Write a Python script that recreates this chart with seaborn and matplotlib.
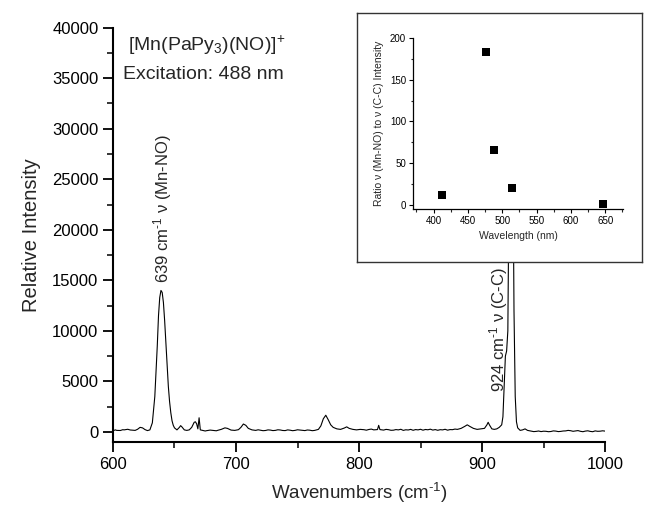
import numpy as np
import pandas as pd
import matplotlib
matplotlib.use("Agg")
import matplotlib.pyplot as plt
from matplotlib.ticker import MultipleLocator
import seaborn as sns

# ---- spectrum ----
wavenumber = [600, 602, 603, 606, 608, 609, 612, 614, 615, 618, 620, 622, 624, 626, 628, 630, 632,
              634, 636, 637, 638, 639, 640, 641, 642, 643, 644, 645, 646, 647, 648,
              649, 650, 652, 654, 655, 656, 658, 660, 662, 664, 666, 667, 668, 669,
              670, 671, 673, 675, 676, 678, 679, 682, 684, 685, 688, 691, 693, 696, 699, 702, 704,
              706, 708, 710, 713, 716, 718, 720, 722, 724, 726, 728, 730, 732, 734, 736, 738, 740,
              742, 744, 746, 748, 750, 752, 754, 756, 758, 760, 762, 764, 767, 769, 771, 773, 775,
              777, 779, 782, 785, 788, 790, 792, 795, 798, 801, 804, 806, 808, 810, 812, 815, 816,
              817, 820, 822, 824, 826, 828, 830, 832, 834, 836, 838, 840, 842, 844, 846, 848, 850,
              852, 854, 856, 858, 860, 862, 864, 866, 868, 870, 872, 874, 876, 878, 880, 883, 886,
              888, 890, 893, 896, 899, 902, 904, 905, 906, 908, 910, 912, 914, 916,
              917, 918, 919, 920, 921, 922, 923, 924, 925, 926, 927, 928, 929, 931,
              933, 935, 937, 940, 942, 944, 946, 948, 950, 952, 954, 956, 958, 960, 962, 964, 966,
              968, 970, 972, 974, 976, 978, 980, 982, 984, 986, 988, 990, 992, 994, 996, 998, 1000]
intensity = [120, 200, 150, 140, 220, 200, 260, 190, 180, 150, 260, 450, 400, 230, 130, 200, 900,
             3500, 8500, 11500, 13300, 14000, 13800, 12800, 11000, 8800, 6500, 4500, 3000, 1900, 1100,
             650, 400, 200, 450, 620, 500, 200, 150, 200, 450, 950, 1000, 800, 300,
             1400, 200, 150, 90, 120, 160, 180, 140, 110, 150, 250, 400, 350, 180, 150, 220, 450,
             780, 650, 350, 200, 150, 210, 170, 120, 140, 200, 180, 130, 150, 210, 190, 140, 130,
             200, 170, 120, 150, 210, 180, 140, 130, 190, 170, 120, 150, 250, 600, 1300, 1650, 1200,
             700, 450, 300, 250, 380, 500, 350, 250, 200, 250, 220, 170, 240, 280, 200, 230, 650,
             230, 180, 250, 220, 160, 170, 230, 200, 260, 150, 210, 190, 250, 160, 230, 200, 260,
             170, 240, 210, 270, 180, 230, 160, 220, 200, 260, 170, 230, 220, 280, 250, 350, 550,
             700, 550, 350, 250, 300, 350, 700, 950, 700, 300, 250, 300, 450, 700,
             1500, 4500, 7500, 8000, 10000, 25000, 37000, 38000, 30000, 12000, 3500, 1000, 400, 150,
             200, 300, 150, 80, 30, 50, 90, 30, 70, 60, 20, 40, 100, 80, 30, 50, 90,
             100, 150, 120, 60, 90, 130, 60, 20, 80, 110, 50, 20, 100, 60, 70, 110, 80]

# ---- inset data ----
wavelength_nm = [413, 476, 488, 514, 647]
ratio = [12, 183, 66, 20, 1]

sns.set_style("ticks")
plt.rcParams['font.family'] = ['Liberation Sans', 'DejaVu Sans']
plt.rcParams['mathtext.fontset'] = 'custom'
plt.rcParams['mathtext.rm'] = 'Liberation Sans'
plt.rcParams['mathtext.it'] = 'Liberation Sans:italic'
plt.rcParams['axes.unicode_minus'] = False

fig = plt.figure(figsize=(6.55, 5.08), dpi=100)
ax = fig.add_axes([0.1725, 0.1299, 0.7512, 0.8156])

df = pd.DataFrame({"wn": wavenumber, "I": intensity})
sns.lineplot(data=df, x="wn", y="I", ax=ax, color="black", linewidth=0.8)

ax.set_xlim(600, 1000)
ax.set_ylim(-1000, 40000)
ax.xaxis.set_major_locator(MultipleLocator(100))
ax.xaxis.set_minor_locator(MultipleLocator(50))
ax.yaxis.set_major_locator(MultipleLocator(5000))
ax.yaxis.set_minor_locator(MultipleLocator(2500))
ax.tick_params(which='major', direction='out', length=7, width=1.3, labelsize=12, colors='black')
ax.tick_params(which='minor', direction='out', length=4, width=1.3)
for s in ['top', 'right']:
    ax.spines[s].set_visible(False)
for s in ['left', 'bottom']:
    ax.spines[s].set_linewidth(1.5)
    ax.spines[s].set_color('black')
ax.set_xlabel(r"Wavenumbers (cm$^{\text{-}1}$)", fontsize=13.5, labelpad=7)
ax.set_ylabel("Relative Intensity", fontsize=14.5, labelpad=8)

ax.text(0.03, 0.958, "[Mn(PaPy$_3$)(NO)]$^{+}$", transform=ax.transAxes, fontsize=14, va='center', ha='left')
ax.text(0.02, 0.888, "Excitation: 488 nm", transform=ax.transAxes, fontsize=14, va='center', ha='left')
ax.text(640, 14700, r"639 cm$^{\text{-}1}$ ν (Mn-NO)", rotation=90, fontsize=12, ha='center', va='bottom')
ax.text(913.5, 3900, r"924 cm$^{\text{-}1}$ ν (C-C)", rotation=90, fontsize=12, ha='center', va='bottom')

# inset frame
box = fig.add_axes([0.545, 0.484, 0.435, 0.490])
box.set_xticks([]); box.set_yticks([])
box.set_facecolor('white')
for s in box.spines.values():
    s.set_visible(True)
    s.set_linewidth(1.0)
    s.set_color('#333333')

ins = fig.add_axes([0.6305, 0.5886, 0.3206, 0.3366])
ins.set_facecolor('white')
dfi = pd.DataFrame({"wl": wavelength_nm, "r": ratio})
sns.scatterplot(data=dfi, x="wl", y="r", ax=ins, marker='s', s=38, color='black', edgecolor='black', linewidth=0)
ins.set_xlim(370, 676)
ins.set_ylim(-5, 200)
ins.xaxis.set_major_locator(MultipleLocator(50))
ins.xaxis.set_minor_locator(MultipleLocator(25))
ins.yaxis.set_major_locator(MultipleLocator(50))
ins.yaxis.set_minor_locator(MultipleLocator(25))
ins.tick_params(which='major', direction='out', length=3, width=0.8, labelsize=7, pad=2, colors='black')
ins.tick_params(which='minor', direction='out', length=1.8, width=0.8)
for s in ['top', 'right']:
    ins.spines[s].set_visible(False)
for s in ['left', 'bottom']:
    ins.spines[s].set_linewidth(0.9)
    ins.spines[s].set_color('black')
ins.set_xlabel("Wavelength (nm)", fontsize=7.5, labelpad=4)
ins.set_ylabel("Ratio ν (Mn-NO) to ν (C-C) Intensity", fontsize=7.5, labelpad=4)

fig.savefig("out.png", dpi=100)
